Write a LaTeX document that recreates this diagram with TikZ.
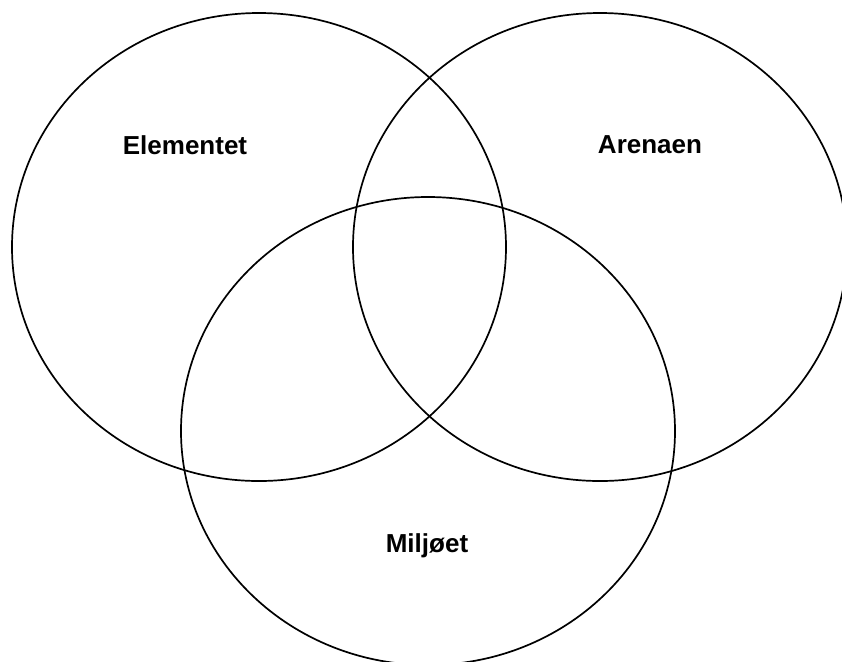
\documentclass[tikz,border=0pt]{standalone}
\usepackage{fontspec}
\setmainfont{Liberation Sans}
\usetikzlibrary{shapes.geometric}

\tikzset{
  setring/.style={ellipse, draw, line width=0.85pt, minimum width=247pt, minimum height=234pt, inner sep=0pt},
  setname/.style={font=\fontsize{13}{15}\selectfont\bfseries}
}

\begin{document}
\begin{tikzpicture}[x=0.5pt, y=-0.5pt]
\useasboundingbox (0,0) rectangle (842,661);

% the three sets
\foreach \name/\cx/\cy in {elem/259/247, arena/600/247, milj/428/431}{
  \node[setring] (\name) at (\cx,\cy) {};
}

% labels
\node[setname] (elemlabel)  at (185,145) {Elementet};
\node[setname] (arenalabel) at (650,145) {Arenaen};
\node[setname] (miljlabel)  at (427,546) {Miljøet};

\end{tikzpicture}
\end{document}
